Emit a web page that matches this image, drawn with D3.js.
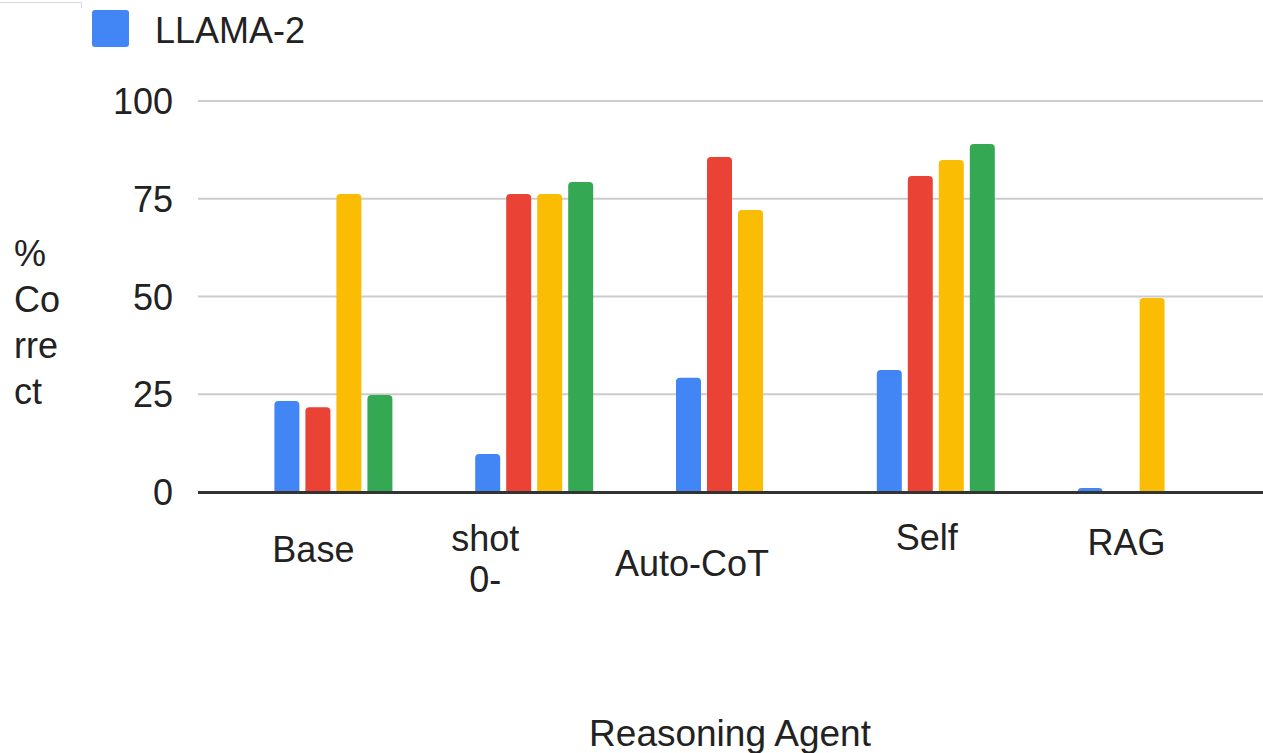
<!DOCTYPE html>
<html>
<head>
<meta charset="utf-8">
<script src="https://cdn.jsdelivr.net/npm/d3@7/dist/d3.min.js"></script>
<style>
  html, body { margin: 0; padding: 0; background: #fff; }
  svg { display: block; font-family: "Liberation Sans", Arial, sans-serif; }
</style>
</head>
<body>
<svg id="chart" width="1263" height="753"></svg>
<script>
// ---- data ----
const categories = ["Base", "0-shot", "Auto-CoT", "Self", "RAG"];
const categoryLabelLines = [["Base"], ["shot", "0-"], ["Auto-CoT"], ["Self"], ["RAG"]];
const seriesNames = ["LLAMA-2", "Series 2", "Series 3", "Series 4"];
const llama2  = [23.3, 9.7, 29.2, 31.2, 1.0];
const series2 = [21.7, 76.2, 85.7, 80.8, null];
const series3 = [76.2, 76.2, 72.1, 84.9, 49.6];
const series4 = [24.8, 79.3, null, 89.0, null];
const yTicks = [0, 25, 50, 75, 100];
const legendShown = ["LLAMA-2"];
const xTitle = "Reasoning Agent";
const yTitleLines = ["%", "Co", "rre", "ct"];

// ---- style / layout ----
const colors = ["#4285f4", "#ea4335", "#fbbc04", "#34a853"];
// label placement quirks (dx from group centre, baseline of first line)
const labelLayout = [
  { dx: -20, y: 562 },
  { dx: -49, y: 551 },
  { dx: -43, y: 576 },
  { dx: -9,  y: 550 },
  { dx: -10, y: 555 }
];

const svg = d3.select("#chart");
const fontSize = 36;
const textColor = "#222";

const x0 = d3.scaleBand().domain(categories).range([233, 1237]).padding(0);
const x1 = d3.scaleBand().domain(seriesNames).range([-59, 59]).paddingInner(6 / 31).paddingOuter(0);
const y = d3.scaleLinear().domain([0, 100]).range([492, 101]);

const seriesValues = [llama2, series2, series3, series4];

// small top-left artifact box
svg.append("path").attr("d", "M0,2.5 H81.5 V8")
  .attr("fill", "none").attr("stroke", "#d9d9d9").attr("stroke-width", 1);

// gridlines
const gridX0 = 198, gridX1 = 1263;
svg.append("g").selectAll("line").data(yTicks.filter(d => d !== 0)).join("line")
  .attr("x1", gridX0).attr("x2", gridX1)
  .attr("y1", d => y(d)).attr("y2", d => y(d))
  .attr("stroke", "#cccccc").attr("stroke-width", 2);

// y axis tick labels
const yAxis = d3.axisLeft(y).tickValues(yTicks).tickSize(0).tickPadding(0);
const gy = svg.append("g").attr("transform", "translate(173,0)").call(yAxis);
gy.select(".domain").remove();
gy.selectAll("text").attr("font-size", fontSize).attr("fill", textColor)
  .attr("font-family", "Liberation Sans, Arial, sans-serif").attr("dy", "0.35em");

// bars
function barPath(xl, w, yt, yb, r) {
  const h = yb - yt;
  r = Math.min(r, h, w / 2);
  if (h <= 0) return "";
  return `M${xl},${yb} V${yt + r} Q${xl},${yt} ${xl + r},${yt} H${xl + w - r} Q${xl + w},${yt} ${xl + w},${yt + r} V${yb} Z`;
}
const barData = [];
seriesValues.forEach((vals, si) => {
  vals.forEach((v, ci) => {
    if (v !== null && v !== undefined) barData.push({ s: seriesNames[si], si, c: categories[ci], v });
  });
});
svg.append("g").selectAll("path").data(barData).join("path")
  .attr("d", d => {
    const cx = x0(d.c) + x0.bandwidth() / 2;
    const xl = cx + x1(d.s);
    return barPath(xl, x1.bandwidth(), y(d.v), y(0), 4);
  })
  .attr("fill", d => colors[d.si]);

// baseline
svg.append("line").attr("x1", gridX0).attr("x2", gridX1)
  .attr("y1", y(0) + 0.5).attr("y2", y(0) + 0.5)
  .attr("stroke", "#333333").attr("stroke-width", 3);

// x axis labels
const xAxis = d3.axisBottom(x0).tickSize(0).tickFormat("");
const gx = svg.append("g").attr("transform", `translate(0,${y(0)})`).call(xAxis);
gx.select(".domain").remove();
const labels = svg.append("g");
categories.forEach((c, i) => {
  const cx = x0(c) + x0.bandwidth() / 2 + labelLayout[i].dx;
  const t = labels.append("text")
    .attr("x", cx).attr("y", labelLayout[i].y)
    .attr("text-anchor", "middle").attr("font-size", fontSize).attr("fill", textColor);
  categoryLabelLines[i].forEach((line, li) => {
    t.append("tspan").attr("x", cx).attr("dy", li === 0 ? 0 : 41).text(line);
  });
});

// x title
svg.append("text").attr("x", 730).attr("y", 746)
  .attr("text-anchor", "middle").attr("font-size", 37).attr("fill", textColor)
  .text(xTitle);

// y title
const yt = svg.append("text").attr("x", 14).attr("y", 266)
  .attr("font-size", fontSize).attr("fill", textColor);
yTitleLines.forEach((line, i) => {
  yt.append("tspan").attr("x", 14).attr("dy", i === 0 ? 0 : 46).text(line);
});

// legend
const lg = svg.append("g");
legendShown.forEach((name, i) => {
  const si = seriesNames.indexOf(name);
  lg.append("rect").attr("x", 92).attr("y", 10).attr("width", 37).attr("height", 37)
    .attr("rx", 3).attr("fill", colors[si]);
  lg.append("text").attr("x", 155).attr("y", 43).attr("font-size", fontSize)
    .attr("fill", textColor).text(name);
});
</script>
</body>
</html>
